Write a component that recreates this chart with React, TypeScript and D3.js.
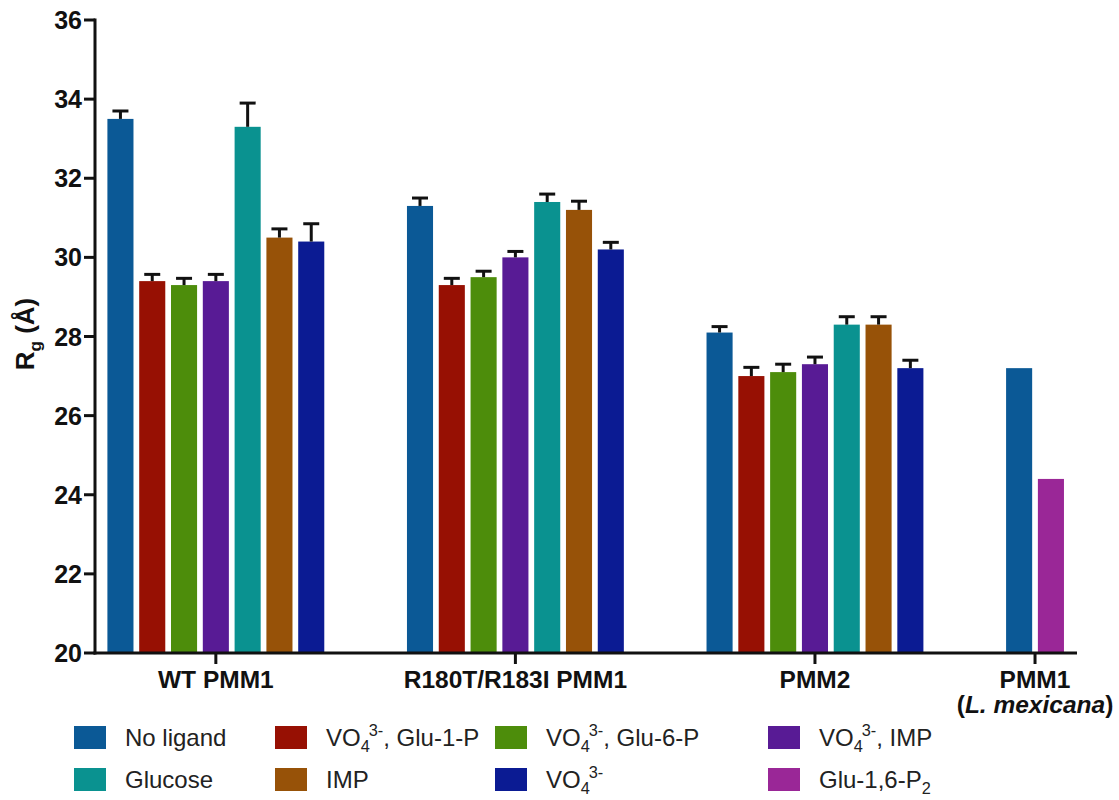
import React from "react";
import * as d3 from "d3";

// ---- Data ----
const categories = ["WT PMM1", "R180T/R183I PMM1", "PMM2", "PMM1"];
const categorySecondLine = [null, null, null, "L. mexicana"];

const seriesNames = [
  "No ligand",
  "VO4 3-, Glu-1-P",
  "VO4 3-, Glu-6-P",
  "VO4 3-, IMP",
  "Glucose",
  "IMP",
  "VO4 3-",
  "Glu-1,6-P2",
];
const seriesColors = [
  "#0b5996",
  "#971003",
  "#4d8d0b",
  "#581b95",
  "#0a9290",
  "#975208",
  "#0b1b93",
  "#9a2797",
];

const noLigand = [33.5, 31.3, 28.1, 27.2];
const vo4Glu1P = [29.4, 29.3, 27.0, null];
const vo4Glu6P = [29.3, 29.5, 27.1, null];
const vo4IMP = [29.4, 30.0, 27.3, null];
const glucose = [33.3, 31.4, 28.3, null];
const imp = [30.5, 31.2, 28.3, null];
const vo4 = [30.4, 30.2, 27.2, null];
const glu16P2 = [null, null, null, 24.4];

const noLigandErr = [0.2, 0.2, 0.15, null];
const vo4Glu1PErr = [0.17, 0.17, 0.22, null];
const vo4Glu6PErr = [0.17, 0.15, 0.2, null];
const vo4IMPErr = [0.17, 0.15, 0.18, null];
const glucoseErr = [0.6, 0.2, 0.2, null];
const impErr = [0.22, 0.22, 0.2, null];
const vo4Err = [0.45, 0.18, 0.2, null];
const glu16P2Err = [null, null, null, null];

const yTicks = [20, 22, 24, 26, 28, 30, 32, 34, 36];

const seriesValues = [noLigand, vo4Glu1P, vo4Glu6P, vo4IMP, glucose, imp, vo4, glu16P2];
const seriesErrors = [noLigandErr, vo4Glu1PErr, vo4Glu6PErr, vo4IMPErr, glucoseErr, impErr, vo4Err, glu16P2Err];

// legend order: two rows of four
const legendOrder = [0, 1, 2, 3, 4, 5, 6, 7];

// ---- Layout ----
const FONT = "'Liberation Sans', Arial, Helvetica, sans-serif";
const plotLeft = 95;
const plotRight = 1077;
const plotTop = 20;
const plotBottom = 653;
const gapUnits = 2.42;
const barWidthUnits = 0.82;

type Bar = { g: number; s: number; pos: number; v: number; e: number | null };

function buildBars() {
  const bars: Bar[] = [];
  const centers: number[] = [];
  let cursor = 0;
  categories.forEach((_, g) => {
    const start = cursor;
    let count = 0;
    seriesValues.forEach((vals, s) => {
      const v = vals[g];
      if (v !== null && v !== undefined) {
        bars.push({ g, s, pos: cursor, v, e: seriesErrors[s][g] });
        cursor += 1;
        count += 1;
      }
    });
    centers.push(start + (count - 1) / 2);
    cursor += gapUnits;
  });
  const last = bars[bars.length - 1].pos;
  return { bars, centers, last };
}

function Label({ name, x, y, size }: { name: string; x: number; y: number; size: number }) {
  const small = size * 0.68;
  if (name.startsWith("VO4 3-")) {
    const rest = name.slice(6);
    return (
      <text x={x} y={y} fontFamily={FONT} fontSize={size} fill="#222">
        <tspan>VO</tspan>
        <tspan fontSize={small} dy={6}>4</tspan>
        <tspan fontSize={small} dy={-16} dx={-1}>3-</tspan>
        {rest ? <tspan dy={10}>{rest}</tspan> : null}
      </text>
    );
  }
  if (name.endsWith("P2")) {
    return (
      <text x={x} y={y} fontFamily={FONT} fontSize={size} fill="#222">
        <tspan>{name.slice(0, -1)}</tspan>
        <tspan fontSize={small} dy={6}>2</tspan>
      </text>
    );
  }
  return (
    <text x={x} y={y} fontFamily={FONT} fontSize={size} fill="#222">
      {name}
    </text>
  );
}

export default function App() {
  const { bars, centers, last } = buildBars();
  const x = d3.scaleLinear().domain([-0.8, last + 0.82]).range([plotLeft, plotRight]);
  const y = d3.scaleLinear().domain([20, 36]).range([plotBottom, plotTop]);
  const bw = x(barWidthUnits) - x(0);
  const capW = 16;

  const legendCols = [74, 275, 495, 768];
  const legendRows = [746, 788];

  return (
    <svg width={1119} height={800} style={{ position: "absolute", left: 0, top: 0 }}>
      <rect width={1119} height={800} fill="#fff" />
      {/* bars */}
      {bars.map((b, i) => (
        <rect
          key={"b" + i}
          x={x(b.pos) - bw / 2}
          y={y(b.v)}
          width={bw}
          height={y(20) - y(b.v)}
          fill={seriesColors[b.s]}
        />
      ))}
      {/* error bars */}
      {bars
        .filter((b) => b.e !== null)
        .map((b, i) => {
          const cx = x(b.pos);
          const top = y(b.v + (b.e as number));
          return (
            <g key={"e" + i} stroke="#111" strokeWidth={3}>
              <line x1={cx} x2={cx} y1={y(b.v)} y2={top} />
              <line x1={cx - capW / 2} x2={cx + capW / 2} y1={top} y2={top} />
            </g>
          );
        })}
      {/* y axis */}
      <line x1={plotLeft} x2={plotLeft} y1={plotTop - 1.5} y2={plotBottom + 1.5} stroke="#111" strokeWidth={3} />
      {yTicks.map((t) => (
        <g key={"yt" + t}>
          <line x1={plotLeft - 11} x2={plotLeft} y1={y(t)} y2={y(t)} stroke="#111" strokeWidth={3} />
          <text
            x={plotLeft - 13}
            y={y(t)}
            dy="0.36em"
            textAnchor="end"
            fontFamily={FONT}
            fontWeight="bold"
            fontSize={25}
            fill="#111"
          >
            {t}
          </text>
        </g>
      ))}
      {/* x axis */}
      <line x1={plotLeft - 1.5} x2={plotRight} y1={plotBottom} y2={plotBottom} stroke="#111" strokeWidth={3} />
      {centers.map((c, g) => (
        <g key={"xt" + g}>
          <line x1={x(c)} x2={x(c)} y1={plotBottom} y2={plotBottom + 11} stroke="#111" strokeWidth={3} />
          <text
            x={x(c)}
            y={688}
            textAnchor="middle"
            fontFamily={FONT}
            fontWeight="bold"
            fontSize={24.5}
            fill="#111"
          >
            {categories[g]}
          </text>
          {categorySecondLine[g] ? (
            <text
              x={x(c)}
              y={713}
              textAnchor="middle"
              fontFamily={FONT}
              fontWeight="bold"
              fontSize={24.5}
              fill="#111"
            >
              <tspan>(</tspan>
              <tspan fontStyle="italic">{categorySecondLine[g]}</tspan>
              <tspan>)</tspan>
            </text>
          ) : null}
        </g>
      ))}
      {/* y label */}
      <text
        transform={`translate(34, 334) rotate(-90)`}
        textAnchor="middle"
        fontFamily={FONT}
        fontWeight="bold"
        fontSize={26}
        fill="#111"
      >
        <tspan>R</tspan>
        <tspan fontSize={17} dy={7}>g</tspan>
        <tspan dy={-7}> (Å)</tspan>
      </text>
      {/* legend */}
      {legendOrder.map((s, i) => {
        const col = i % 4;
        const row = Math.floor(i / 4);
        const lx = legendCols[col];
        const ly = legendRows[row];
        return (
          <g key={"lg" + s}>
            <rect x={lx} y={ly - 20} width={32} height={23} fill={seriesColors[s]} />
            <Label name={seriesNames[s]} x={lx + 51} y={ly} size={24} />
          </g>
        );
      })}
    </svg>
  );
}
